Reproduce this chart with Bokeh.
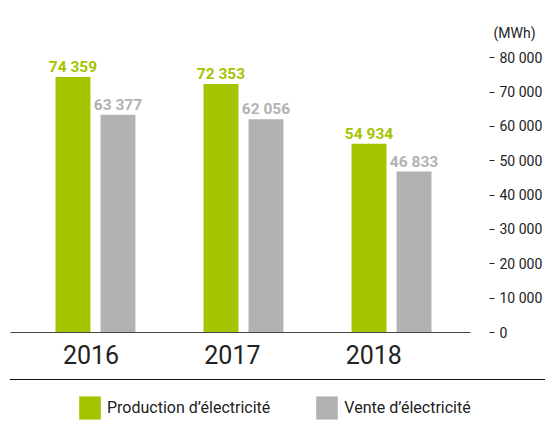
from bokeh.plotting import figure
from bokeh.models import (Range1d, FixedTicker, LinearAxis, ColumnDataSource, Legend,
                          LegendItem, Title, Div)
from bokeh.layouts import column
from bokeh.transform import dodge
from bokeh.core.properties import value
from bokeh.embed import file_html
from bokeh.resources import INLINE

years = ["2016", "2017", "2018"]
production = [74359, 72353, 54934]
vente = [63377, 62056, 46833]
y_ticks = [0, 10000, 20000, 30000, 40000, 50000, 60000, 70000, 80000]
unit_label = "(MWh)"
series_names = ["Production d\u2019\u00e9lectricit\u00e9", "Vente d\u2019\u00e9lectricit\u00e9"]


def fmt(v):
    return f"{v:,}".replace(",", " ")


FONT = "Roboto"
GREEN = "#a5c400"
GRAY = "#b2b2b2"
DARK = "#222222"

idx = list(range(len(years)))
src = ColumnDataSource(dict(
    idx=idx, year=years, prod=production, vente=vente,
    prod_lbl=[fmt(v) for v in production], vente_lbl=[fmt(v) for v in vente],
))

X0, X1 = -0.574, 2.662
p = figure(frame_width=479, frame_height=292,
           x_range=Range1d(X0, X1), y_range=Range1d(0, 85000),
           output_backend="svg", toolbar_location=None,
           x_axis_location=None, y_axis_location=None,
           min_border_left=10, min_border_right=0, min_border_top=40, min_border_bottom=47)
p.outline_line_color = None
p.xgrid.visible = False
p.ygrid.visible = False
p.background_fill_color = "white"
p.border_fill_color = "white"

off = 0.152
bw = 0.236
p.vbar(x=dodge("idx", -off), top="prod", width=bw, source=src,
       fill_color=GREEN, line_color=None)
p.vbar(x=dodge("idx", off), top="vente", width=bw, source=src,
       fill_color=GRAY, line_color=None)

p.text(x=dodge("idx", -off), y="prod", text="prod_lbl", source=src,
       text_align="center", text_baseline="alphabetic", y_offset=-10,
       text_font=value(FONT), text_font_style="bold", text_font_size="15.5px",
       text_color=GREEN)
p.text(x=dodge("idx", off), y="vente", text="vente_lbl", source=src,
       text_align="center", text_baseline="alphabetic", y_offset=-10,
       text_font=value(FONT), text_font_style="bold", text_font_size="15.5px",
       text_color=GRAY)

# unit title above the value axis
p.add_layout(Title(text=unit_label, align="left", offset=483, standoff=0,
                   text_font=FONT, text_font_size="14px", text_font_style="normal",
                   text_color=DARK), "above")

# year axis (below), its line is the baseline
label_pos = [round(i * 0.955 - 0.03, 3) for i in idx]
xaxis = LinearAxis(ticker=FixedTicker(ticks=label_pos),
                   major_label_overrides={pos: y for pos, y in zip(label_pos, years)})
xaxis.bounds = (X0, 2.534)
xaxis.axis_line_color = "#444444"
xaxis.axis_line_width = 1
xaxis.major_tick_in = 0
xaxis.major_tick_out = 0
xaxis.minor_tick_line_color = None
xaxis.major_label_standoff = 12
xaxis.major_label_text_font = FONT
xaxis.major_label_text_font_size = "25px"
xaxis.major_label_text_color = DARK
p.add_layout(xaxis, "below")

# value axis (right)
yaxis = LinearAxis(ticker=FixedTicker(ticks=y_ticks),
                   major_label_overrides={t: fmt(t) for t in y_ticks})
yaxis.axis_line_color = None
yaxis.major_tick_in = 0
yaxis.major_tick_out = 5
yaxis.major_tick_line_color = DARK
yaxis.minor_tick_line_color = None
yaxis.major_label_standoff = 5
yaxis.major_label_text_font = FONT
yaxis.major_label_text_font_size = "14px"
yaxis.major_label_text_color = DARK
p.add_layout(yaxis, "right")

# separator line between the years and the legend
sep = Div(text="", width=535, height=1, margin=(0, 0, 0, 10),
          styles={"background-color": "#111111"})

# legend strip (its proxy bars lie outside the visible ranges)
q = figure(width=545, height=48, x_range=Range1d(100, 101), y_range=Range1d(-2, -1),
           output_backend="svg", toolbar_location=None,
           x_axis_location=None, y_axis_location=None,
           min_border_left=10, min_border_right=0, min_border_top=0, min_border_bottom=0)
q.outline_line_color = None
q.xgrid.visible = False
q.ygrid.visible = False
q.border_fill_color = None
q.background_fill_color = None
g1 = q.vbar(x="idx", top="prod", width=0.1, source=src, fill_color=GREEN, line_color=None)
g2 = q.vbar(x="idx", top="vente", width=0.1, source=src, fill_color=GRAY, line_color=None)

legend = Legend(items=[LegendItem(label=series_names[0], renderers=[g1]),
                       LegendItem(label=series_names[1], renderers=[g2])],
                orientation="horizontal", location=(66, 6),
                glyph_width=27, glyph_height=29, label_standoff=4, spacing=43,
                padding=0, margin=0, border_line_color=None, background_fill_alpha=0,
                label_text_font=FONT, label_text_font_size="16px", label_text_color=DARK)
q.add_layout(legend)

open("out.html", "w").write(file_html(column(p, sep, q), INLINE))
